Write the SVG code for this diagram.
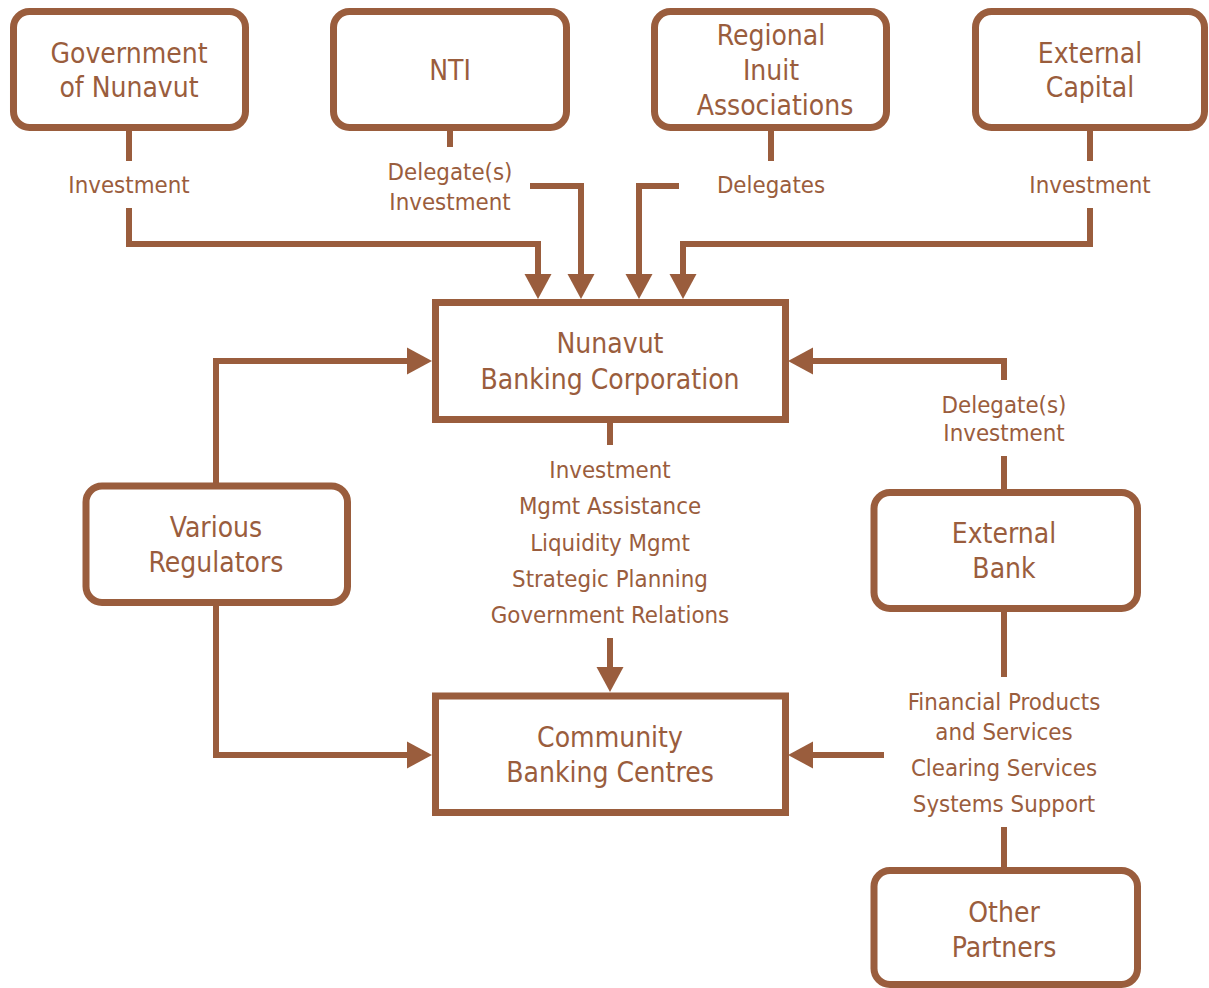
<svg xmlns="http://www.w3.org/2000/svg" width="1209" height="988" viewBox="0 0 1209 988">
<style>
.box{fill:#fff;stroke:#9a5d3d;stroke-width:7}
.t{font-family:"DejaVu Sans Condensed","DejaVu Sans",sans-serif;font-stretch:condensed;fill:#9a5d3d;text-anchor:middle}
.big{font-size:28px}
.lbl{font-size:23.8px}
.c{fill:none;stroke:#9a5d3d;stroke-width:6;stroke-linejoin:miter;stroke-linecap:butt}
</style>
<defs>
<marker id="ah" markerUnits="userSpaceOnUse" markerWidth="26" markerHeight="28" refX="0" refY="13.5" orient="auto" overflow="visible">
<path d="M0,0 L25,13.5 L0,27 Z" fill="#9a5d3d"/>
</marker>
</defs>
<rect width="1209" height="988" fill="#fff"/>

<g id="connectors">
<path class="c" d="M129,131 V161"/>
<path class="c" d="M129,208 V244 H538 V274" marker-end="url(#ah)"/>
<path class="c" d="M450,131 V147"/>
<path class="c" d="M530,186 H581 V274" marker-end="url(#ah)"/>
<path class="c" d="M771,131 V161"/>
<path class="c" d="M679,186 H639 V274" marker-end="url(#ah)"/>
<path class="c" d="M1090,131 V161"/>
<path class="c" d="M1090,208 V244 H683 V274" marker-end="url(#ah)"/>
<path class="c" d="M216,486 V361 H407" marker-end="url(#ah)"/>
<path class="c" d="M216,602 V755 H407" marker-end="url(#ah)"/>
<path class="c" d="M610,423 V445"/>
<path class="c" d="M610,638 V667" marker-end="url(#ah)"/>
<path class="c" d="M1004,489 V456"/>
<path class="c" d="M1004,380 V361 H813" marker-end="url(#ah)"/>
<path class="c" d="M1004,612 V677"/>
<path class="c" d="M884,755 H813" marker-end="url(#ah)"/>
<path class="c" d="M1004,827 V867"/>
<g class="t lbl">
<text x="129" y="193">Investment</text>
<text x="450" y="180">Delegate(s)</text>
<text x="450" y="210">Investment</text>
<text x="771" y="193">Delegates</text>
<text x="1090" y="193">Investment</text>
<text x="610" y="478">Investment</text>
<text x="610" y="514">Mgmt Assistance</text>
<text x="610" y="551">Liquidity Mgmt</text>
<text x="610" y="587">Strategic Planning</text>
<text x="610" y="623">Government Relations</text>
<text x="1004" y="413">Delegate(s)</text>
<text x="1004" y="441">Investment</text>
<text x="1004" y="710">Financial Products</text>
<text x="1004" y="740">and Services</text>
<text x="1004" y="776">Clearing Services</text>
<text x="1004" y="812">Systems Support</text>
</g>
</g>

<g id="gov">
<rect class="box" x="13.5" y="11.5" width="232" height="116" rx="16"/>
<text class="t big" x="129" y="63">Government</text>
<text class="t big" x="129" y="97">of Nunavut</text>
</g>
<g id="nti">
<rect class="box" x="333.5" y="11.5" width="233" height="116" rx="16"/>
<text class="t big" x="450" y="80">NTI</text>
</g>
<g id="ria">
<rect class="box" x="654.5" y="11.5" width="232" height="116" rx="16"/>
<text class="t big" x="771" y="45">Regional</text>
<text class="t big" x="771" y="80">Inuit</text>
<text class="t big" x="775" y="115">Associations</text>
</g>
<g id="extcap">
<rect class="box" x="975.5" y="11.5" width="229" height="116" rx="16"/>
<text class="t big" x="1090" y="63">External</text>
<text class="t big" x="1090" y="97">Capital</text>
</g>
<g id="nbc">
<rect class="box" x="435.5" y="302.5" width="350" height="117"/>
<text class="t big" x="610" y="353">Nunavut</text>
<text class="t big" x="610" y="389">Banking Corporation</text>
</g>
<g id="regulators">
<rect class="box" x="86" y="486" width="261.5" height="116.5" rx="16"/>
<text class="t big" x="216" y="537">Various</text>
<text class="t big" x="216" y="572">Regulators</text>
</g>
<g id="extbank">
<rect class="box" x="874" y="492.5" width="263.5" height="116" rx="16"/>
<text class="t big" x="1004" y="543">External</text>
<text class="t big" x="1004" y="578">Bank</text>
</g>
<g id="cbc">
<rect class="box" x="435.5" y="696" width="350" height="116.5"/>
<text class="t big" x="610" y="747">Community</text>
<text class="t big" x="610" y="782">Banking Centres</text>
</g>
<g id="partners">
<rect class="box" x="874" y="870.5" width="263.5" height="114" rx="16"/>
<text class="t big" x="1004" y="922">Other</text>
<text class="t big" x="1004" y="957">Partners</text>
</g>
</svg>
